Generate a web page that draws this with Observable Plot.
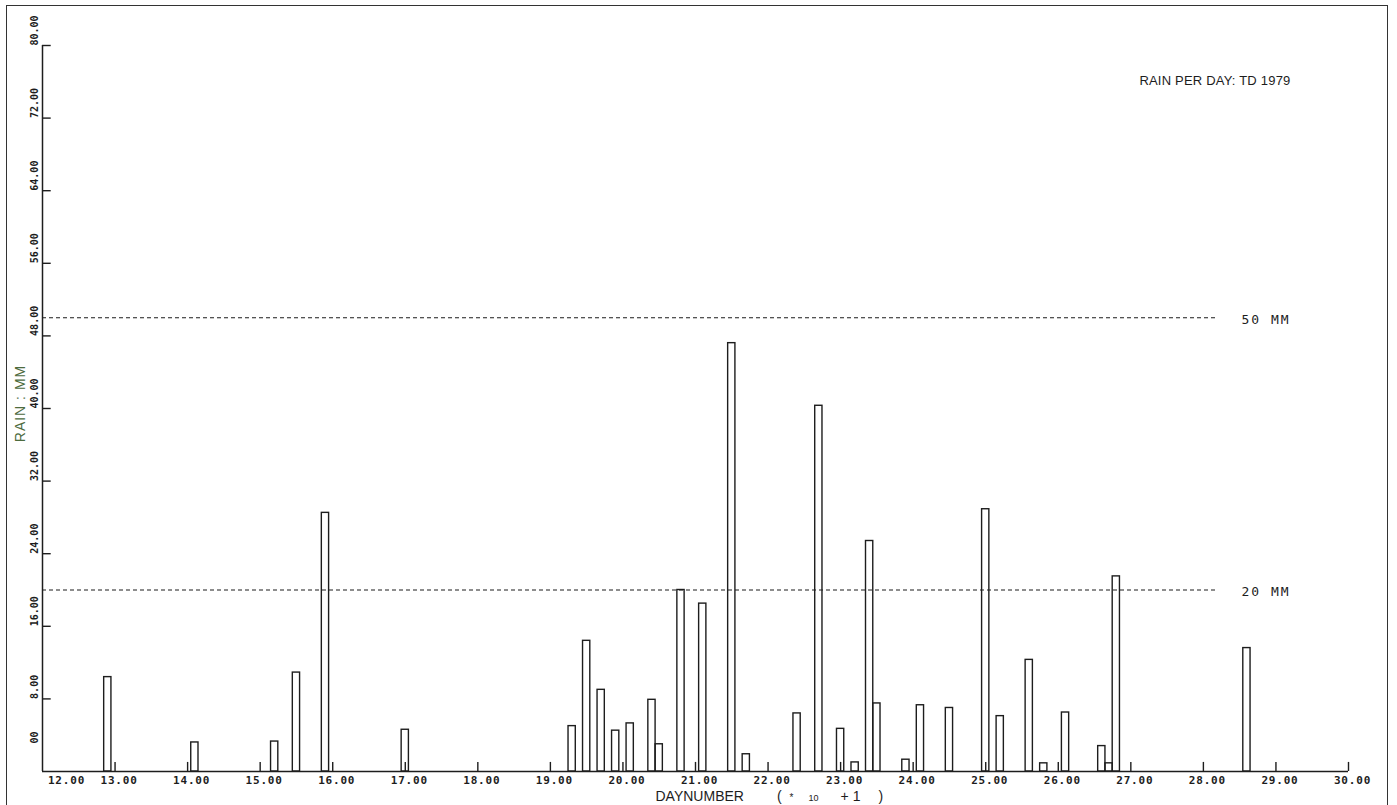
<!DOCTYPE html>
<html>
<head>
<meta charset="utf-8">
<script src="https://cdn.jsdelivr.net/npm/d3@7"></script>
<script src="https://cdn.jsdelivr.net/npm/@observablehq/plot@0.6"></script>
<style>
  html, body { margin: 0; padding: 0; background: #fff; }
  #wrap { position: relative; width: 1397px; height: 805px; overflow: hidden; }
  #border { position: absolute; left: 6px; top: 5px; width: 1380px; height: 830px;
            border-left: 1.5px solid #333; border-top: 1.5px solid #333; border-right: 1.5px solid #333;
            pointer-events: none; }
  svg text { white-space: pre; }
  .reflab text { letter-spacing: 2px; }
  .ylab text { letter-spacing: 1px; }
  .title text { letter-spacing: 0.2px; }
  .xt text { letter-spacing: 0.8px; }
</style>
</head>
<body>
<div id="wrap"><div id="border"></div></div>
<script>
// ---- data ----
const days   = [12.9, 14.1, 15.2, 15.5, 15.9, 17.0, 19.3, 19.5, 19.7, 19.9, 20.1, 20.4, 20.5, 20.8, 21.1,
                21.5, 21.7, 22.4, 22.7, 23.0, 23.2, 23.4, 23.5, 23.9, 24.1, 24.5, 25.0, 25.2, 25.6, 25.8,
                26.1, 26.6, 26.7, 26.8, 28.6];
const rainMM = [10.4, 3.2, 3.3, 10.9, 28.5, 4.6, 5.0, 14.4, 9.0, 4.5, 5.3, 7.9, 3.0, 20.0, 18.5,
                47.2, 1.9, 6.4, 40.3, 4.7, 1.0, 25.4, 7.5, 1.3, 7.3, 7.0, 28.9, 6.1, 12.3, 0.9,
                6.5, 2.8, 0.9, 21.5, 13.6];
const xTickValues = [12, 13, 14, 15, 16, 17, 18, 19, 20, 21, 22, 23, 24, 25, 26, 27, 28, 29, 30];
const yTickValues = [8, 16, 24, 32, 40, 48, 56, 64, 72, 80];
const yZeroLabel = ["00"];
const refLevels = [50, 20];
const refLabels = ["50 MM", "20 MM"];
const title = "RAIN PER DAY: TD 1979";
const yLabel = "RAIN : MM";
const xLabelParts = ["DAYNUMBER", "(", "*", "10", "+1", ")"];

const rainTable = days.map((d, i) => ({day: d, mm: rainMM[i]}));
const refTable = refLevels.map((v, i) => ({v, label: refLabels[i]}));

const ink = "#1d1d1d";
const mono = "'DejaVu Sans Mono', 'Liberation Mono', monospace";
const sans = "'Liberation Sans', Arial, sans-serif";
const fmt = d3.format(".2f");

const chart = Plot.plot({
  width: 1397,
  height: 805,
  marginLeft: 42,
  marginRight: 49,
  marginTop: 45,
  marginBottom: 34,
  x: {domain: [12, 30], axis: null},
  y: {domain: [0, 80], axis: null},
  style: {background: "transparent", color: ink},
  marks: [
    Plot.rectY(rainTable, {x1: d => d.day - 0.05, x2: d => d.day + 0.05, y1: 0, y2: "mm",
      fill: "none", stroke: ink, strokeWidth: 1.4}),
    Plot.ruleY(refLevels, {x1: 12, x2: 28.2, stroke: ink, strokeWidth: 1.1, strokeDasharray: "4,3"}),
    Plot.ruleX([12], {y1: 0, y2: 80, stroke: ink, strokeWidth: 1.5}),
    Plot.ruleY([0], {x1: 12, x2: 30, stroke: ink, strokeWidth: 1.5}),
    Plot.ruleX(xTickValues.slice(1), {y1: 0, y2: 1, stroke: ink, strokeWidth: 1.4}),
    Plot.ruleY(yTickValues, {x1: 12, x2: 12.12, stroke: ink, strokeWidth: 1.4}),
    Plot.axisX(xTickValues.slice(1), {tickSize: 0, tickPadding: 5, dx: 4, tickFormat: fmt,
      fontFamily: mono, fontSize: 11, fontWeight: "bold", label: null, className: "xt"}),
    Plot.axisX(xTickValues.slice(0, 1), {tickSize: 0, tickPadding: 5, dx: 24, tickFormat: fmt,
      fontFamily: mono, fontSize: 11, fontWeight: "bold", label: null, className: "xt"}),
    Plot.text(yTickValues, {x: 12, y: d => d, text: fmt, rotate: -90, textAnchor: "start",
      dx: -8, fontFamily: mono, fontSize: 10, fontWeight: "bold", fill: ink}),
    Plot.text(yZeroLabel, {x: 12, y: 0, text: d => d, rotate: -90, textAnchor: "start",
      dx: -8, dy: -28, fontFamily: mono, fontSize: 10, fontWeight: "bold", fill: ink}),
    Plot.text([yLabel], {frameAnchor: "left", text: d => d, rotate: -90, dx: -22, dy: -5,
      textAnchor: "middle", fontFamily: sans, fontSize: 14, fill: "#4d6b3e", className: "ylab"}),
    Plot.text([title], {frameAnchor: "top-right", text: d => d, dx: -58, dy: 35, textAnchor: "end",
      lineAnchor: "middle", fontFamily: sans, fontSize: 13, fill: ink, className: "title"}),
    Plot.text(refTable, {y: "v", text: "label", frameAnchor: "right", dx: -107, dy: 2,
      textAnchor: "start", lineAnchor: "middle", fontFamily: mono, fontSize: 13, fill: ink, className: "reflab"}),
    Plot.text([xLabelParts.join(" ")], {frameAnchor: "bottom-left", text: d => d, dx: 613, dy: 25,
      textAnchor: "start", lineAnchor: "middle", fontFamily: sans, fontSize: 14, fill: ink, className: "xlab"})
  ]
});

// split the x-axis label into tspans (smaller "* 10")
const t = d3.select(chart).select(".xlab text");
t.text(null);
t.append("tspan").text(xLabelParts[0]);
t.append("tspan").attr("dx", 33).text(xLabelParts[1]);
t.append("tspan").attr("dx", 8).attr("font-size", 10).text(xLabelParts[2]);
t.append("tspan").attr("dx", 15).attr("font-size", 9).text(xLabelParts[3]);
t.append("tspan").attr("dx", 22).attr("letter-spacing", "4px").text(xLabelParts[4]);
t.append("tspan").attr("dx", 14).text(xLabelParts[5]);

document.getElementById("wrap").appendChild(chart);
</script>
</body>
</html>
